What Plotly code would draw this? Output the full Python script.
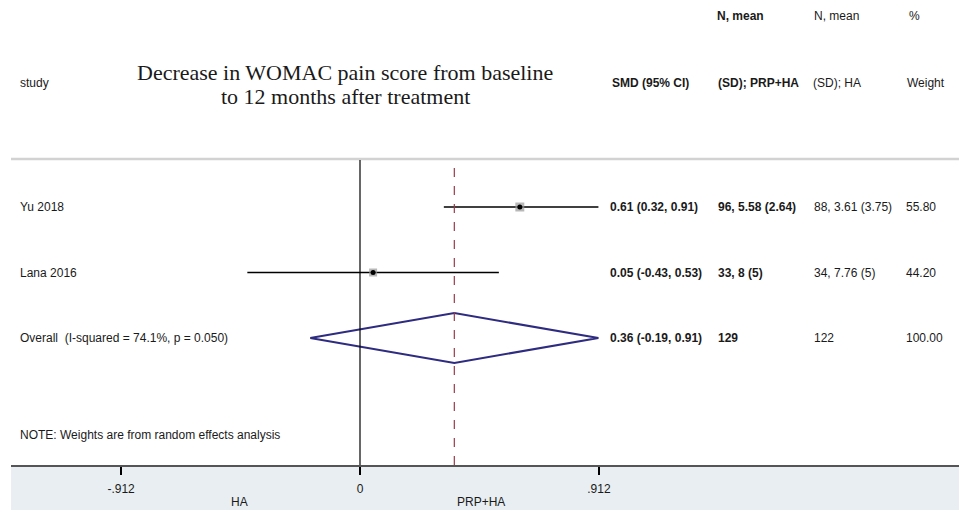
import plotly.graph_objects as go

# ---------------- data ----------------
studies = ["Yu 2018", "Lana 2016"]
smd = [0.61, 0.05]
ci_low = [0.32, -0.43]
ci_high = [0.91, 0.53]
weights = [55.80, 44.20]
prp_ha = ["96, 5.58 (2.64)", "33, 8 (5)"]
ha = ["88, 3.61 (3.75)", "34, 7.76 (5)"]

overall_label = "Overall  (I-squared = 74.1%, p = 0.050)"
overall_smd = 0.36
overall_low = -0.19
overall_high = 0.91
overall_prp_n = "129"
overall_ha_n = "122"
overall_weight = 100.00

tick_vals = [-0.912, 0, 0.912]
tick_text = ["-.912", "0", ".912"]
favours = ["HA", "PRP+HA"]
favours_pos = [-0.46, 0.46]

title_lines = ["Decrease in WOMAC pain score from baseline", "to 12 months after treatment"]
note = "NOTE: Weights are from random effects analysis"

# ---------------- layout helpers ----------------
PAGE_W, PAGE_H = 967, 510
OFF = 8                      # default page body margin
W, H = PAGE_W - OFF, PAGE_H - OFF
ZERO_PX, PX_PER_UNIT = 360, 262
LEFT_PX, AXIS_PX = 11, 465
ROW1_PX, ROW_STEP = 207, 65.5
SANS = "Liberation Sans, Arial, sans-serif"
SERIF = "Liberation Serif, Times New Roman, serif"
TXT = "#1a1a1a"
FS = 12


def xpx(p):
    return (p - OFF) / W


def ypx(p):
    return 1 - (p - OFF) / H


def px_to_row(p):
    return 1 + (p - ROW1_PX) / ROW_STEP


def px_to_x(p):
    return (p - ZERO_PX) / PX_PER_UNIT


x_range = [px_to_x(LEFT_PX), px_to_x(PAGE_W)]
y_range = [px_to_row(AXIS_PX), px_to_row(OFF)]

fig = go.Figure()

rows = list(range(1, len(studies) + 1))
overall_row = len(studies) + 1

# CI lines
for r, lo, hi in zip(rows, ci_low, ci_high):
    fig.add_trace(go.Scatter(x=[lo, hi], y=[r, r], mode="lines",
                             line=dict(color="black", width=1.5),
                             hoverinfo="skip", showlegend=False))

# weight squares + point estimates
fig.add_trace(go.Scatter(x=smd, y=rows, mode="markers",
                         marker=dict(symbol="square", color="#9a9a9a",
                                     size=[12 * (w / 100) ** 0.5 for w in weights],
                                     line=dict(width=0)),
                         hoverinfo="skip", showlegend=False))
fig.add_trace(go.Scatter(x=smd, y=rows, mode="markers",
                         marker=dict(symbol="circle", color="black", size=5),
                         hoverinfo="skip", showlegend=False))

# overall diamond
dh = 0.38
fig.add_trace(go.Scatter(
    x=[overall_low, overall_smd, overall_high, overall_smd, overall_low],
    y=[overall_row, overall_row - dh, overall_row, overall_row + dh, overall_row],
    mode="lines", line=dict(color="#2e2b80", width=2),
    hoverinfo="skip", showlegend=False))

shapes = []
# bottom band
shapes.append(dict(type="rect", xref="paper", yref="paper", x0=xpx(LEFT_PX), x1=1,
                   y0=0, y1=ypx(AXIS_PX + 1), fillcolor="#e8eef1",
                   line=dict(width=0), layer="below"))
# right border
shapes.append(dict(type="line", xref="paper", yref="paper", x0=xpx(964), x1=xpx(964),
                   y0=ypx(AXIS_PX), y1=1, line=dict(color="#e6ebee", width=1.5),
                   layer="below"))
# top separator
shapes.append(dict(type="line", xref="paper", yref="paper", x0=xpx(LEFT_PX), x1=1,
                   y0=ypx(159), y1=ypx(159), line=dict(color="#d2d2d2", width=2.5),
                   layer="below"))
# null line
top_frac = (AXIS_PX - 160) / (AXIS_PX - OFF)
shapes.append(dict(type="line", xref="x", yref="y domain", x0=0, x1=0, y0=0, y1=top_frac,
                   line=dict(color="black", width=1.2)))
# overall dashed line
shapes.append(dict(type="line", xref="x", yref="y domain", x0=overall_smd, x1=overall_smd,
                   y0=0, y1=top_frac, line=dict(color="#9b3a48", width=1.2, dash="dash")))

ann = []


def text(x, y, s, bold=False, size=FS, xref="paper", yref="paper", font=SANS,
         xanchor="left", color=TXT):
    ann.append(dict(x=x, y=y, xref=xref, yref=yref, text=f"<b>{s}</b>" if bold else s,
                    showarrow=False, xanchor=xanchor, yanchor="middle",
                    font=dict(family=font, size=size, color=color)))


# headers
text(xpx(715), ypx(16), "N, mean", bold=True)
text(xpx(812), ypx(16), "N, mean")
text(xpx(907), ypx(16), "%")
text(xpx(18), ypx(83), "study")
text(xpx(610), ypx(83), "SMD (95% CI)", bold=True)
text(xpx(716), ypx(83), "(SD); PRP+HA", bold=True)
text(xpx(811), ypx(83), "(SD); HA")
text(xpx(905), ypx(83), "Weight")
# title
text(xpx(345), ypx(72), title_lines[0], size=22, font=SERIF, xanchor="center")
text(xpx(345), ypx(96), title_lines[1], size=22, font=SERIF, xanchor="center")

# study rows
for r, s, m, lo, hi, p, h, w in zip(rows, studies, smd, ci_low, ci_high, prp_ha, ha, weights):
    text(xpx(18), r, s, yref="y")
    text(xpx(608), r, f"{m:.2f} ({lo:.2f}, {hi:.2f})", bold=True, yref="y")
    text(xpx(716), r, p, bold=True, yref="y")
    text(xpx(812), r, h, yref="y")
    text(xpx(904), r, f"{w:.2f}", yref="y")

# overall row
text(xpx(18), overall_row, overall_label, yref="y")
text(xpx(608), overall_row, f"{overall_smd:.2f} ({overall_low:.2f}, {overall_high:.2f})",
     bold=True, yref="y")
text(xpx(716), overall_row, overall_prp_n, bold=True, yref="y")
text(xpx(812), overall_row, overall_ha_n, yref="y")
text(xpx(904), overall_row, f"{overall_weight:.2f}", yref="y")

# note
text(xpx(18), ypx(435), note)

# favours labels
for lab, pos in zip(favours, favours_pos):
    text(pos, ypx(502), lab, xref="x", xanchor="center")

fig.update_layout(
    width=W, height=H, margin=dict(l=0, r=0, t=0, b=0),
    paper_bgcolor="white", plot_bgcolor="rgba(0,0,0,0)",
    shapes=shapes, annotations=ann, showlegend=False,
    xaxis=dict(domain=[xpx(LEFT_PX), 1], range=x_range, showgrid=False, zeroline=False,
               showline=True, linecolor="#555555", linewidth=2,
               tickmode="array", tickvals=tick_vals, ticktext=tick_text,
               ticks="outside", ticklen=8, tickwidth=1.5, tickcolor="black",
               ticklabelstandoff=4,
               tickfont=dict(family=SANS, size=FS, color=TXT), fixedrange=True),
    yaxis=dict(domain=[1 - (AXIS_PX - OFF) / H, 1], range=y_range, visible=False,
               fixedrange=True),
)

fig.write_html("out.html")
